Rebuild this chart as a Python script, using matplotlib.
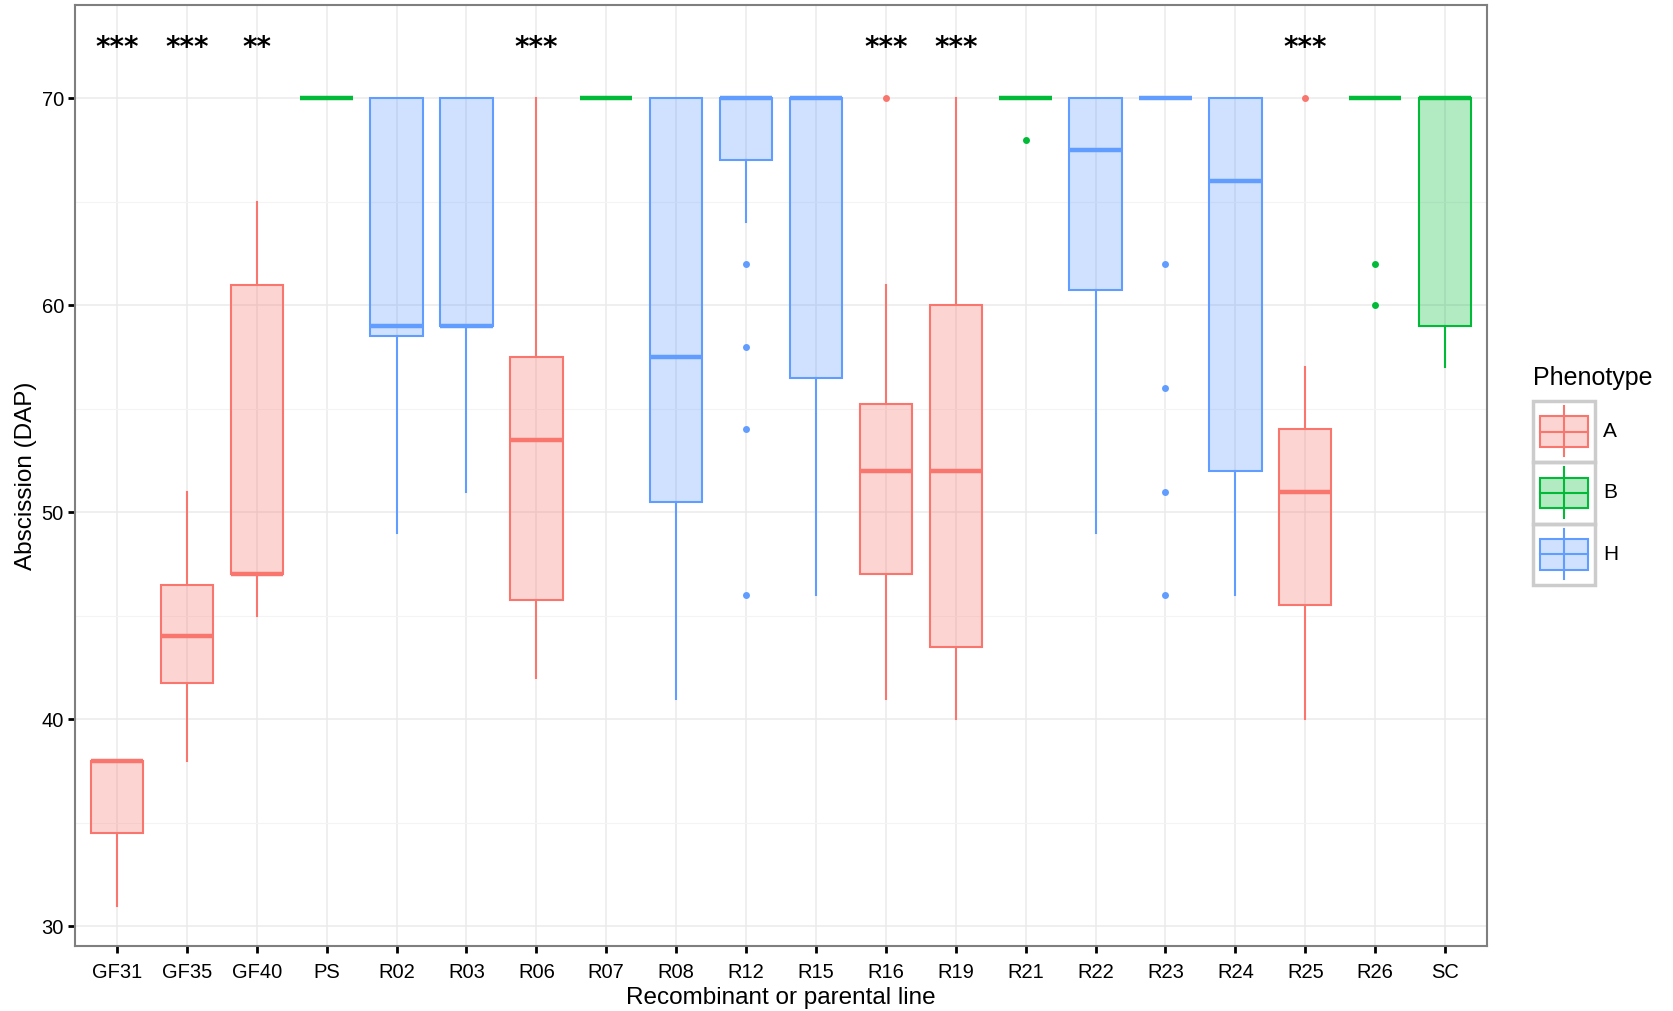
import numpy as np
import matplotlib
matplotlib.use("Agg")
import matplotlib.pyplot as plt
from matplotlib.patches import Rectangle

plt.rcParams['font.family'] = ['Liberation Sans', 'DejaVu Sans']

lines = ['GF31', 'GF35', 'GF40', 'PS', 'R02', 'R03', 'R06', 'R07', 'R08', 'R12',
         'R15', 'R16', 'R19', 'R21', 'R22', 'R23', 'R24', 'R25', 'R26', 'SC']
phen = ['A', 'A', 'A', 'B', 'H', 'H', 'A', 'B', 'H', 'H',
        'H', 'A', 'A', 'B', 'H', 'H', 'H', 'A', 'B', 'B']

# boxplot stats
wlo = [31, 38, 45, 70, 49, 51, 42, 70, 41, 64, 46, 41, 40, 70, 49, 70, 46, 40, 70, 57]
q1 = [34.5, 41.75, 47, 70, 58.5, 59, 45.75, 70, 50.5, 67, 56.5, 47, 43.5, 70, 60.75, 70, 52, 45.5, 70, 59]
med = [38, 44, 47, 70, 59, 59, 53.5, 70, 57.5, 70, 70, 52, 52, 70, 67.5, 70, 66, 51, 70, 70]
q3 = [38, 46.5, 61, 70, 70, 70, 57.5, 70, 70, 70, 70, 55.25, 60, 70, 70, 70, 70, 54, 70, 70]
whi = [38, 51, 65, 70, 70, 70, 70, 70, 70, 70, 70, 61, 70, 70, 70, 70, 70, 57, 70, 70]
outliers = {'R12': [62, 58, 54, 46], 'R16': [70], 'R21': [68],
            'R23': [62, 56, 51, 46], 'R25': [70], 'R26': [62, 60]}
stars = {'GF31': '***', 'GF35': '***', 'GF40': '**', 'R06': '***',
         'R16': '***', 'R19': '***', 'R25': '***'}

cols = {'A': '#F8766D', 'B': '#00BA38', 'H': '#619CFF'}

fig = plt.figure(figsize=(16.73, 10.11), dpi=100)
ax = fig.add_axes([75/1673, 1-946/1011, (1487-75)/1673, (946-5)/1011])

pos = np.arange(1, len(lines)+1)
stats = []
for i, name in enumerate(lines):
    stats.append(dict(label=name, whislo=wlo[i], q1=q1[i], med=med[i], q3=q3[i],
                      whishi=whi[i], fliers=outliers.get(name, [])))

bp = ax.bxp(stats, positions=pos, widths=0.75, patch_artist=True,
            showcaps=False, showfliers=True, manage_ticks=False)

for i, p in enumerate(phen):
    c = cols[p]
    bx = bp['boxes'][i]
    bx.set_facecolor(matplotlib.colors.to_rgba(c, 0.3))
    bx.set_edgecolor(c)
    bx.set_linewidth(1.5)
    bx.set_zorder(3)
    bp['medians'][i].set_color(c)
    bp['medians'][i].set_linewidth(3.2)
    bp['medians'][i].set_solid_capstyle('butt')
    bp['medians'][i].set_zorder(4)
    for w in bp['whiskers'][2*i:2*i+2]:
        w.set_color(c)
        w.set_linewidth(1.5)
    f = bp['fliers'][i]
    f.set_marker('o')
    f.set_markerfacecolor(c)
    f.set_markeredgecolor('none')
    f.set_markersize(5)
    f.set_zorder(4)

for name, s in stars.items():
    ax.text(lines.index(name)+1, 72.4, s, ha='center', va='center',
            fontsize=20, fontweight='bold', family='DejaVu Sans')

ax.set_xlim(0.4, len(lines)+0.6)
ax.set_ylim(29.05, 74.5)
ax.set_xticks(pos)
ax.set_xticklabels(lines)
ax.set_yticks([30, 40, 50, 60, 70])
ax.set_yticks([35, 45, 55, 65], minor=True)
ax.grid(True, which='major', color='#ebebeb', lw=1.1, zorder=0)
ax.grid(True, which='minor', axis='y', color='#f4f4f4', lw=0.8, zorder=0)
ax.set_axisbelow(True)
ax.tick_params(axis='both', which='major', labelsize=14.5, length=5, width=2,
               color='black', labelcolor='black', pad=3)
ax.tick_params(axis='x', pad=7)
ax.tick_params(which='minor', length=0)
for sp in ax.spines.values():
    sp.set_color('#7f7f7f')
    sp.set_linewidth(1.5)
ax.set_xlabel('Recombinant or parental line', fontsize=17.5, labelpad=4)
ax.set_ylabel('Abscission (DAP)', fontsize=17.5, labelpad=3)

# legend drawn by hand, ggplot style
lax = fig.add_axes([1533/1673, 1-585/1011, 62/1673, 184/1011])
lax.set_xlim(0, 1)
lax.set_ylim(0, 3)
lax.axis('off')
for k, p in enumerate(['A', 'B', 'H']):
    y0 = 2 - k
    c = cols[p]
    lax.add_patch(Rectangle((0, y0), 1, 1, fill=False, ec='#cccccc', lw=2.5, clip_on=False))
    lax.plot([0.5, 0.5], [y0+0.1, y0+0.92], color=c, lw=1.5)
    lax.add_patch(Rectangle((0.12, y0+0.25), 0.76, 0.5, fc=matplotlib.colors.to_rgba(c, 0.3),
                            ec=c, lw=1.5, zorder=3))
    lax.plot([0.12, 0.88], [y0+0.5, y0+0.5], color=c, lw=1.5, zorder=4)
    fig.text(1603/1673, 1-(585 - (y0+0.5)/3*184)/1011, p, fontsize=15, va='center', ha='left')
fig.text(1533/1673, 1-378/1011, 'Phenotype', fontsize=18, va='center', ha='left')

fig.savefig('out.png', dpi=100)
